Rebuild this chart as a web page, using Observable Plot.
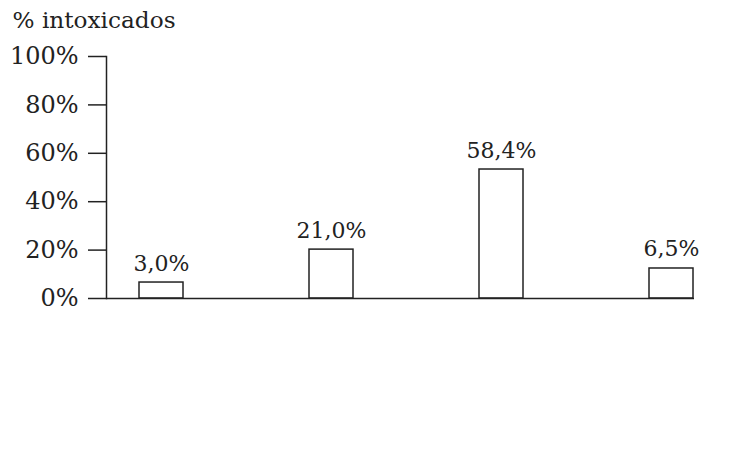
<!DOCTYPE html>
<html><head><meta charset="utf-8">
<script src="https://cdn.jsdelivr.net/npm/d3@7"></script>
<script src="https://cdn.jsdelivr.net/npm/@observablehq/plot@0.6"></script>
<style>body{margin:0;background:#fff}</style>
</head><body><div id="chart"></div>
<script>
const categories = ["A", "B", "C", "D"];
const barHeights = [6.6, 20.2, 53.3, 12.4];
const valueLabels = ["3,0%", "21,0%", "58,4%", "6,5%"];
const yTicks = [0, 20, 40, 60, 80, 100];
const yTitle = "% intoxicados";

const data = categories.map((c, i) => ({c, v: barHeights[i], label: valueLabels[i]}));

const chart = Plot.plot({
  width: 730, height: 474,
  marginLeft: 106, marginRight: 36, marginTop: 56, marginBottom: 176,
  style: {fontFamily: "DejaVu Serif", fontSize: "22px", color: "#222", background: "#fff"},
  x: {domain: categories, range: [138, 694], paddingInner: 0.742, paddingOuter: 0, axis: null},
  y: {domain: [0, 100]},
  marks: [
    Plot.axisY({ticks: yTicks, tickFormat: d => d + "%", tickSize: 18, tickPadding: 10, strokeWidth: 1.5, label: null, fontSize: 24}),
    Plot.frame({anchor: "left", strokeWidth: 1.5, stroke: "#222"}),
    Plot.barY(data, {x: "c", y: "v", fill: "white", stroke: "#222", strokeWidth: 1.5}),
    Plot.ruleY([0], {strokeWidth: 1.5, stroke: "#222"}),
    Plot.text(data, {x: "c", y: "v", text: "label", dy: -12, lineAnchor: "bottom", fontSize: 22}),
    Plot.text([yTitle], {frameAnchor: "top-left", dx: -94, dy: -29, textAnchor: "start", lineAnchor: "bottom", fontSize: 23.2})
  ]
});
document.getElementById("chart").appendChild(chart);
</script>
</body></html>
